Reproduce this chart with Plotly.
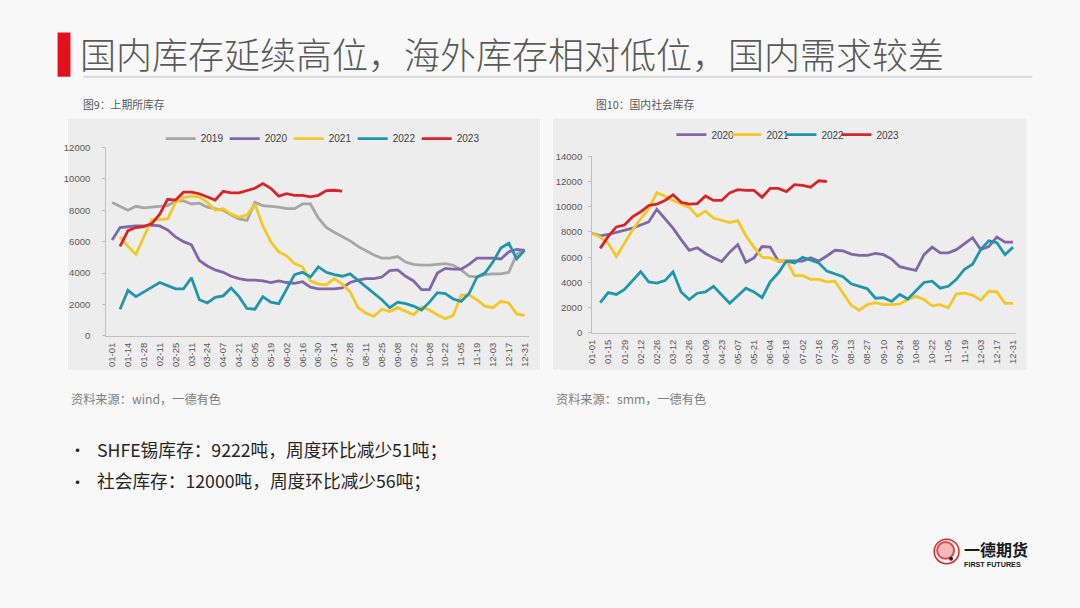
import plotly.graph_objects as go

W, H = 1080, 608

# ---------------- data ----------------
weeks = list(range(53))

left_tick_labels = ["01-01", "01-14", "01-28", "02-11", "02-25", "03-11", "03-24", "04-07", "04-21",
                    "05-05", "05-19", "06-02", "06-16", "06-30", "07-14", "07-28", "08-11", "08-25",
                    "09-08", "09-22", "10-08", "10-22", "11-05", "11-19", "12-03", "12-17", "12-31"]
right_tick_labels = ["01-01", "01-15", "01-29", "02-12", "02-26", "03-12", "03-26", "04-09", "04-23",
                     "05-07", "05-21", "06-04", "06-18", "07-02", "07-16", "07-30", "08-13", "08-27",
                     "09-10", "09-24", "10-08", "10-22", "11-05", "11-19", "12-03", "12-17", "12-31"]

# SHFE tin inventory (tonnes), weekly
shfe_2019 = [8500, 8250, 8000, 8250, 8150, 8200, 8250, 8300, 8600, 8600,
             8400, 8450, 8200, 8100, 8000, 7700, 7450, 7350, 8500, 8300,
             8250, 8200, 8100, 8100, 8400, 8400, 7500, 6900, 6600, 6350,
             6050, 5700, 5400, 5150, 4950, 4950, 5050, 4700, 4550, 4500,
             4500, 4550, 4600, 4500, 4200, 3800, 3750, 3900, 3950, 3950,
             4050, 5200, 5500]
shfe_2020 = [6100, 6900, 6950, 7000, 7000, 7050, 7000, 6750, 6300, 6000,
             5800, 4800, 4450, 4200, 4050, 3800, 3650, 3550, 3550, 3500,
             3400, 3500, 3400, 3350, 3450, 3100, 3000, 3000, 3000, 3050,
             3400, 3550, 3650, 3650, 3750, 4150, 4200, 3800, 3500, 2950,
             2950, 4000, 4300, 4250, 4250, 4550, 4950, 4950, 4950, 4900,
             5350, 5500, 5450]
shfe_2021 = [None, 6300, 5700, 5200, 6300, 7400, 7400, 7450, 8500, 8800,
             8900, 8850, 8500, 8000, 8100, 7750, 7550, 7700, 8400, 7000,
             6000, 5350, 5100, 4600, 4400, 3500, 3300, 3250, 3650, 3300,
             2800, 1800, 1450, 1250, 1700, 1550, 1800, 1600, 1350, 1850,
             1650, 1350, 1100, 1300, 2600, 2600, 2300, 1900, 1800, 2200,
             2100, 1400, 1300]
shfe_2022 = [None, 1700, 2900, 2500, 2800, 3100, 3400, 3200, 3000, 3000,
             3700, 2300, 2100, 2450, 2550, 3050, 2500, 1750, 1700, 2500,
             2150, 2050, 2950, 3900, 4050, 3750, 4400, 4050, 3900, 3800,
             3950, 3550, 3100, 2700, 2300, 1800, 2150, 2050, 1900, 1650,
             2150, 2750, 2700, 2350, 2200, 2700, 3750, 4000, 4700, 5600,
             5900, 4900, 5450]
shfe_2023 = [None, 5700, 6700, 6900, 6950, 7150, 7750, 8700, 8650, 9150,
             9150, 9050, 8850, 8650, 9200, 9100, 9100, 9250, 9400, 9700,
             9400, 8900, 9050, 8950, 8950, 8850, 8950, 9250, 9273, 9222]

# Domestic social inventory (tonnes), weekly
soc_2020 = [7900, 7700, 7800, 7950, 8100, 8300, 8550, 8800, 9800, 9050,
            8300, 7400, 6550, 6750, 6300, 5950, 5650, 6400, 7000, 5600,
            5950, 6850, 6800, 5700, 5700, 5650, 5700, 5950, 5700, 6100,
            6550, 6500, 6250, 6150, 6150, 6300, 6200, 5850, 5250, 5100,
            4950, 6200, 6800, 6350, 6350, 6600, 7050, 7550, 6600, 6850,
            7600, 7200, 7200]
soc_2021 = [7900, 7600, 7100, 6050, 7100, 8150, 9050, 9850, 11100, 10850,
            10500, 10200, 9950, 9250, 9650, 9100, 8900, 8750, 8900, 7700,
            6800, 6000, 5950, 5700, 5750, 4550, 4550, 4250, 4250, 4050,
            4100, 3200, 2200, 1800, 2250, 2400, 2250, 2250, 2300, 2650,
            2900, 2650, 2150, 2250, 2000, 3100, 3150, 3000, 2600, 3300,
            3250, 2350, 2350]
soc_2022 = [None, 2400, 3200, 3050, 3450, 4150, 4850, 4050, 3950, 4150,
            4850, 3250, 2650, 3150, 3250, 3700, 3050, 2350, 2950, 3550,
            3250, 2800, 4050, 4750, 5700, 5550, 6000, 5750, 5550, 4900,
            4700, 4450, 3900, 3700, 3500, 2750, 2800, 2500, 3050, 2700,
            3350, 4000, 4100, 3550, 3700, 4250, 5050, 5450, 6600, 7300,
            7150, 6200, 6800]
soc_2023 = [None, 6700, 7650, 8400, 8550, 9200, 9600, 10100, 10200, 10500,
            10950, 10350, 10200, 10250, 10850, 10500, 10500, 11100, 11350, 11300,
            11300, 10750, 11450, 11450, 11200, 11750, 11700, 11550, 12056, 12000]

left_series = [("2019", shfe_2019, "#a6a6a6"), ("2020", shfe_2020, "#8068a8"),
               ("2021", shfe_2021, "#f5c723"), ("2022", shfe_2022, "#1e96ab"),
               ("2023", shfe_2023, "#d9232b")]
right_series = [("2020", soc_2020, "#8068a8"), ("2021", soc_2021, "#f5c723"),
                ("2022", soc_2022, "#1e96ab"), ("2023", soc_2023, "#d9232b")]


def px(x):
    return x / W


def py(y):
    return 1 - y / H


fig = go.Figure()

for name, vals, col in left_series:
    fig.add_trace(go.Scatter(x=weeks[:len(vals)], y=vals, name=name, mode="lines",
                             line=dict(color=col, width=2.8), xaxis="x", yaxis="y",
                             legend="legend", connectgaps=False, hoverinfo="skip"))
for name, vals, col in right_series:
    fig.add_trace(go.Scatter(x=weeks[:len(vals)], y=vals, name=name, mode="lines",
                             line=dict(color=col, width=2.8), xaxis="x2", yaxis="y2",
                             legend="legend2", connectgaps=False, hoverinfo="skip"))
# empty spacer entries so the last legend labels are not clipped
for lg, ax, ay in [("legend", "x", "y"), ("legend2", "x2", "y2")]:
    fig.add_trace(go.Scatter(x=[None], y=[None], name="\u00a0", mode="lines",
                             line=dict(color="rgba(0,0,0,0)", width=1), xaxis=ax, yaxis=ay,
                             legend=lg, hoverinfo="skip"))

tickfont = dict(family="Liberation Sans, Arial", size=9.5, color="#595959")
axcol = "#c0c0c0"

fig.update_layout(
    width=W, height=H, autosize=False,
    margin=dict(l=0, r=0, t=0, b=0),
    paper_bgcolor="#f8f8f8", plot_bgcolor="rgba(0,0,0,0)",
    font=dict(family="Noto Sans CJK SC", color="#404040"),
    xaxis=dict(domain=[px(101), px(527)], range=[-0.75, 52.5], anchor="y",
               tickvals=weeks[::2], ticktext=left_tick_labels, tickangle=-90,
               tickfont=tickfont, showline=True, linecolor=axcol, linewidth=1,
               showgrid=False, zeroline=False, ticks="", ticklabelstandoff=2),
    yaxis=dict(domain=[py(336), py(144)], range=[0, 12000], anchor="x",
               tickvals=[0, 2000, 4000, 6000, 8000, 10000, 12000], tickformat="d",
               tickfont=tickfont, showline=True, linecolor=axcol, linewidth=1,
               showgrid=False, zeroline=False, ticks="outside", ticklen=3,
               tickcolor=axcol, ticklabelstandoff=10),
    xaxis2=dict(domain=[px(591), px(1018)], range=[0, 52.3], anchor="y2",
                tickvals=weeks[::2], ticktext=right_tick_labels, tickangle=-90,
                tickfont=tickfont, showline=True, linecolor=axcol, linewidth=1,
                showgrid=False, zeroline=False, ticks="", ticklabelstandoff=2),
    yaxis2=dict(domain=[py(333), py(153)], range=[0, 14000], anchor="x2",
                tickvals=[0, 2000, 4000, 6000, 8000, 10000, 12000, 14000], tickformat="d",
                tickfont=tickfont, showline=True, linecolor=axcol, linewidth=1,
                showgrid=False, zeroline=False, ticks="outside", ticklen=3,
                tickcolor=axcol, ticklabelstandoff=4),
    legend=dict(orientation="h", x=px(156), y=py(135), xanchor="left", yanchor="middle",
                font=dict(family="Liberation Sans, Arial", size=10, color="#404040"),
                bgcolor="rgba(0,0,0,0)", entrywidth=19, itemclick=False),
    legend2=dict(orientation="h", x=px(671), y=py(131), xanchor="left", yanchor="middle",
                 font=dict(family="Liberation Sans, Arial", size=10, color="#404040"),
                 bgcolor="rgba(0,0,0,0)", entrywidth=10, itemclick=False),
    showlegend=True,
)

shapes = []
# panel backgrounds
for x0, x1 in [(62, 539), (551, 1030)]:
    shapes.append(dict(type="rect", xref="paper", yref="paper", x0=px(x0), x1=px(x1),
                       y0=py(371), y1=py(114), fillcolor="#ededed",
                       line=dict(color="#fbfbfb", width=1), layer="below"))
# title red bar and underline
shapes.append(dict(type="rect", xref="paper", yref="paper", x0=px(52), x1=px(65),
                   y0=py(72), y1=py(27), fillcolor="#e3101b", line=dict(width=0)))
shapes.append(dict(type="line", xref="paper", yref="paper", x0=px(78), x1=px(1035),
                   y0=py(72), y1=py(72), line=dict(color="#d9d9d9", width=2)))
# logo
shapes.append(dict(type="circle", xref="paper", yref="paper", x0=px(936), x1=px(961),
                   y0=py(568), y1=py(543), line=dict(color="#d7262c", width=1.5),
                   fillcolor="rgba(0,0,0,0)"))
shapes.append(dict(type="circle", xref="paper", yref="paper", x0=px(939), x1=px(956),
                   y0=py(563), y1=py(546), line=dict(color="#e0484d", width=2),
                   fillcolor="#f2b8ba"))
shapes.append(dict(type="circle", xref="paper", yref="paper", x0=px(951), x1=px(955),
                   y0=py(565), y1=py(561), line=dict(width=0), fillcolor="#222222"))
fig.update_layout(shapes=shapes)

ann = []


def text(x, y, s, size, color, anchor="left", family="Noto Sans CJK SC", weight=None):
    f = dict(family=family, size=size, color=color)
    if weight:
        f["weight"] = weight
    ann.append(dict(x=px(x), y=py(y), xref="paper", yref="paper", text=s, showarrow=False,
                    xanchor=anchor, yanchor="middle", font=f))


text(73, 48, "国内库存延续高位，海外库存相对低位，国内需求较差", 36, "#595959", weight=300)
text(76, 100, "图9：上期所库存", 10.8, "#595959")
text(593, 100, "图10：国内社会库存", 10.8, "#595959")
text(64, 400, "资料来源：wind，一德有色", 12.2, "#808080")
text(553, 400, "资料来源：smm，一德有色", 12.2, "#808080")
text(62, 452, "•", 17, "#262626")
text(90, 451, "SHFE锡库存：9222吨，周度环比减少51吨；", 17.7, "#262626")
text(62, 484, "•", 17, "#262626")
text(90, 483, "社会库存：12000吨，周度环比减少56吨；", 17.7, "#262626")
text(964, 553, "一德期货", 16, "#1a1a1a", weight=700)
text(964, 569, "FIRST FUTURES", 7.2, "#1a1a1a", family="Liberation Sans, Arial", weight=700)
fig.update_layout(annotations=ann)

fig.write_html("out.html")
